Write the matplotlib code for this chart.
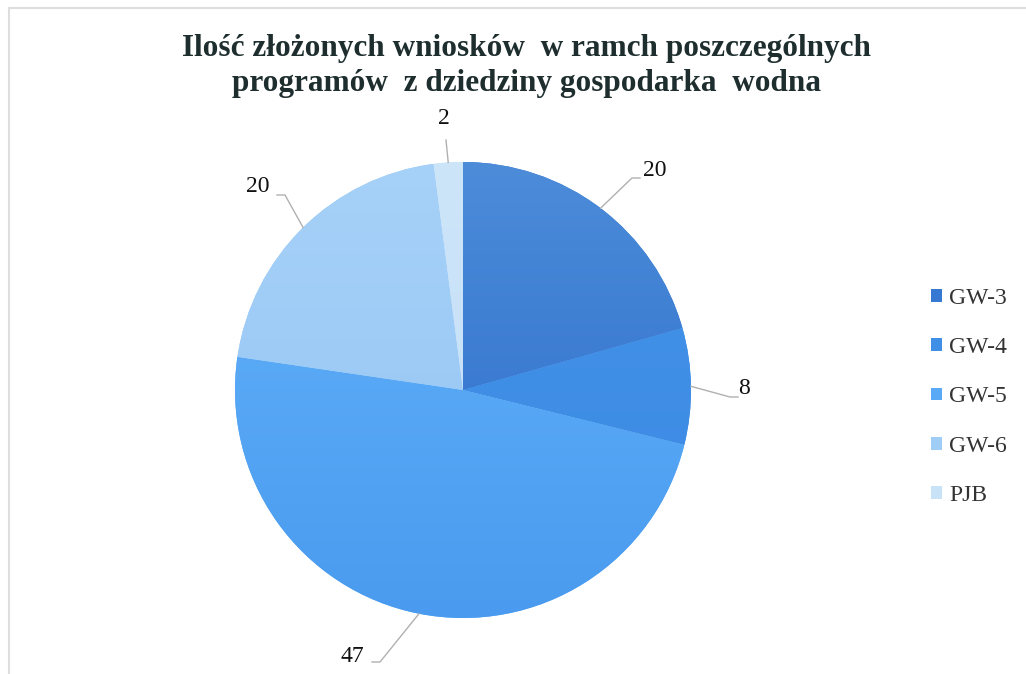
import numpy as np
import matplotlib
matplotlib.use("Agg")
import matplotlib.pyplot as plt
from matplotlib.patches import Rectangle
from matplotlib.colors import to_rgb

# dane
programs = ["GW-3", "GW-4", "GW-5", "GW-6", "PJB"]
counts = [20, 8, 47, 20, 2]
colors = ["#3779d2", "#3f8fe7", "#5aa9f7", "#a0cdf6", "#c8e2f8"]
# gradient ends (top, bottom) for each slice
grad_top = ["#4c8cd9", "#4594ea", "#63b3fb", "#a6d1f8", "#cde5f9"]
grad_bot = ["#2a69c9", "#3a88e2", "#4a9bef", "#93c4f3", "#c2def7"]
title = "Ilość złożonych wniosków  w ramch poszczególnych\nprogramów  z dziedziny gospodarka  wodna"

# label positions (pixel layout) and elbow offsets for leader lines
label_pos = [(655, 170), (744, 388), (352, 657), (258, 187), (444, 118)]
elbow_pos = [(632, 178), (730, 397), (380, 662), (285, 195), (446, 140)]

W, H = 1026, 674
fig = plt.figure(figsize=(W / 100, H / 100), dpi=100)
ax = fig.add_axes([0, 0, 1, 1])

# chart border
ax.add_patch(Rectangle((9, -5), W, H - 8 + 5, fill=False, edgecolor="#dedede", lw=1.5))

cx, cy, r = 463, H - 390, 228
wedges, _ = ax.pie(counts, colors=colors, startangle=90, counterclock=False,
                   center=(cx, cy), radius=r, frame=True,
                   wedgeprops=dict(linewidth=0))
ax.set_xlim(0, W)
ax.set_ylim(0, H)
ax.set_aspect("equal")
ax.axis("off")

# vertical gradient fill clipped to each wedge
t = np.linspace(0, 1, 256)[:, None]
for w, c0, c1 in zip(wedges, grad_top, grad_bot):
    a, b = np.array(to_rgb(c0)), np.array(to_rgb(c1))
    img = (a[None, None, :] * (1 - t[..., None]) + b[None, None, :] * t[..., None])
    img = np.repeat(img, 2, axis=1)
    im = ax.imshow(img, extent=(cx - r, cx + r, cy - r, cy + r), origin="upper",
                   aspect="auto", zorder=w.get_zorder() + 0.1)
    im.set_clip_path(w)
ax.set_xlim(0, W)
ax.set_ylim(0, H)

for w, val, lp, ep in zip(wedges, counts, label_pos, elbow_pos):
    ang = np.deg2rad((w.theta1 + w.theta2) / 2)
    ex, ey = cx + r * np.cos(ang), cy + r * np.sin(ang)
    if abs(lp[0] - ep[0]) > 5:
        end_x = ep[0] + (8 if lp[0] > ep[0] else -8)
    else:
        end_x = ep[0]
    ax.plot([ex, ep[0], end_x], [ey, H - ep[1], H - ep[1]], color="#b0b0b0", lw=1, zorder=5)
    ax.text(lp[0], H - lp[1], str(val), ha="center", va="center",
            fontsize=17, family="Liberation Serif", color="#111111")

ax.text(526, H - 66, title, ha="center", va="center", fontsize=22.5,
        fontweight="bold", family="Liberation Serif", color="#1e2e2e",
        linespacing=1.3)

leg = ax.legend(wedges, programs, loc="center left", bbox_to_anchor=(910 / W, 1 - 397 / H),
                bbox_transform=fig.transFigure, frameon=False,
                prop=dict(family="Liberation Serif", size=17),
                handlelength=0.45, handleheight=0.45, handletextpad=0.3,
                labelspacing=1.2)
for txt in leg.get_texts():
    txt.set_color("#333333")

fig.savefig("out.png", dpi=100)
